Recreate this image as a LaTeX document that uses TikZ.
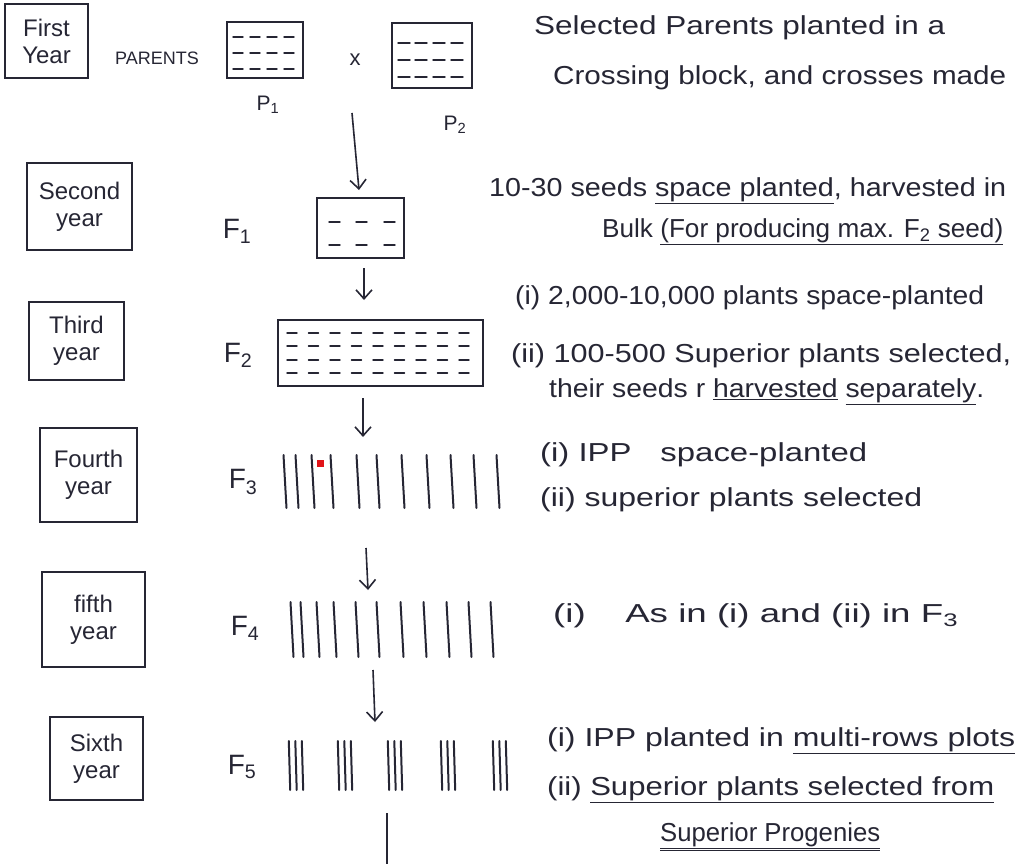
\documentclass[tikz,border=0pt]{standalone}
\usepackage{graphicx}
\usepackage{fontspec}
\setmainfont{Liberation Sans}
\usetikzlibrary{arrows.meta}
\definecolor{ink}{RGB}{38,38,52}
\definecolor{redmark}{RGB}{225,20,25}
\newcommand{\fitw}[2]{\resizebox{#1}{\height}{#2}}
\begin{document}
\begin{tikzpicture}[x=1pt,y=-1pt,
  yearbox/.style={draw=ink,line width=1.8pt,align=center,inner sep=0pt,text=ink,
    font=\fontsize{24}{27}\selectfont},
  plotbox/.style={draw=ink,line width=1.8pt,inner sep=0pt},
  rowarea/.style={inner sep=0pt},
  gen/.style={text=ink,font=\fontsize{28}{30}\selectfont,inner sep=0pt},
  note/.style={text=ink,font=\fontsize{26}{28}\selectfont,anchor=west,inner sep=0pt},
  flow/.style={draw=ink,line width=1.6pt,-{Straight Barb[length=9pt,width=16pt,line width=1.6pt]}},
  plain flow/.style={draw=ink,line width=1.6pt},
  plantrow/.style={draw=ink,line width=2pt,line cap=round},
  dashmark/.style={draw=ink,line width=1.4pt,line cap=round}
]
\useasboundingbox (0,0) rectangle (1015,864);
\fill[white] (0,0) rectangle (1015,864);

% ---------- year boxes ----------
\node[yearbox,minimum width=83pt,minimum height=74pt] (y1) at (46.5,41) {First\\Year};
\node[yearbox,minimum width=105pt,minimum height=87pt] (y2) at (79.5,206.5) {Second\\year};
\node[yearbox,minimum width=95pt,minimum height=78pt] (y3) at (76.5,341) {Third\\year};
\node[yearbox,minimum width=97pt,minimum height=94pt] (y4) at (88.5,475) {Fourth\\year};
\node[yearbox,minimum width=103pt,minimum height=95pt] (y5) at (93.5,619.5) {fifth\\year};
\node[yearbox,minimum width=93pt,minimum height=83pt] (y6) at (96.5,758.5) {Sixth\\year};

% ---------- first year ----------
\node[text=ink,font=\fontsize{18}{20}\selectfont,inner sep=0pt] (parents) at (157,58) {PARENTS};
\node[plotbox,minimum width=76pt,minimum height=56pt] (p1) at (265,50) {};
\node[plotbox,minimum width=80pt,minimum height=65pt] (p2) at (432,55.5) {};
\node[text=ink,font=\fontsize{22}{24}\selectfont,inner sep=0pt] (cross) at (355,60) {x};
\node[gen,font=\fontsize{21}{23}\selectfont] (p1l) at (268,105) {P\textsubscript{1}};
\node[gen,font=\fontsize{21}{23}\selectfont] (p2l) at (455,125) {P\textsubscript{2}};
\foreach \yy in {37,53,69}{
  \foreach \xx in {233,250,267,284}{\draw[dashmark] (\xx,\yy) -- ++(10,0);}}
\foreach \yy in {43,60,77}{
  \foreach \xx in {398,415,433,451}{\draw[dashmark] (\xx,\yy) -- ++(12,0);}}

% ---------- second year ----------
\node[gen] (f1l) at (237,231) {F\textsubscript{1}};
\node[plotbox,minimum width=87pt,minimum height=60pt] (f1) at (360.5,228) {};
\foreach \yy in {222,245}{
  \foreach \xx in {329,356,384}{\draw[dashmark] (\xx,\yy) -- ++(11,0);}}

% ---------- third year ----------
\node[gen] (f2l) at (238,355) {F\textsubscript{2}};
\node[plotbox,minimum width=205pt,minimum height=66pt] (f2) at (380.5,353) {};
\foreach \yy in {333,346,360,373}{
  \foreach \i in {0,...,8}{\draw[dashmark] (287+\i*21.5,\yy) -- ++(10,0);}}

% ---------- fourth year ----------
\node[gen] (f3l) at (243,482) {F\textsubscript{3}};
\node[rowarea,minimum width=222pt,minimum height=55pt] (f3) at (391,481.5) {};
\foreach \xx in {285,297,313,332,358,378,403,428,452,475,498}{
  \draw[plantrow] (\xx-1.5,455) -- (\xx+1.5,508);}
\fill[redmark] (316.5,459.5) rectangle (323.5,466.5);

% ---------- fifth year ----------
\node[gen] (f4l) at (245,628) {F\textsubscript{4}};
\node[rowarea,minimum width=208pt,minimum height=55pt] (f4) at (392,629.5) {};
\foreach \xx in {292,302,318,335,357,378,402,425,448,470,492}{
  \draw[plantrow] (\xx-1.5,602) -- (\xx+1.5,657);}

% ---------- sixth year ----------
\node[gen] (f5l) at (242,767) {F\textsubscript{5}};
\node[rowarea,minimum width=230pt,minimum height=50pt] (f5) at (398,765) {};
\foreach \cx in {296,345,395,448,500}{
  \foreach \o in {-6.5,0,6.5}{\draw[plantrow] (\cx+\o-0.7,741) -- (\cx+\o+0.7,790);}}

% ---------- connectors ----------
\coordinate (a1s) at (352,113);
\coordinate (a1e) at (359,190);
\coordinate (a2s) at (364,268);
\coordinate (a2e) at (364,300);
\coordinate (a3s) at (363,398);
\coordinate (a3e) at (363,437);
\coordinate (a4s) at (366,548);
\coordinate (a4e) at (368,590);
\coordinate (a5s) at (373,670);
\coordinate (a5e) at (375,722);
\coordinate (a6s) at (387,813);
\coordinate (a6e) at (387,864);
\draw[flow] (a1s) -- (a1e);
\draw[flow] (a2s) -- (a2e);
\draw[flow] (a3s) -- (a3e);
\draw[flow] (a4s) -- (a4e);
\draw[flow] (a5s) -- (a5e);
\draw[plain flow] (a6s) -- (a6e);

% ---------- notes ----------
\node[note] (n1a) at (534,28) {\fitw{411pt}{Selected Parents planted in a}};
\node[note] (n1b) at (553,78) {\fitw{453pt}{Crossing block, and crosses made}};
\node[note] (n2a) at (489,191) {\fitw{517pt}{10-30 seeds \underline{space planted}, harvested in}};
\node[note] (n2b) at (602,232) {\fitw{401pt}{Bulk \underline{(For producing max. F\textsubscript{2} seed)}}};
\node[note] (n3a) at (515,298) {\fitw{469pt}{(i) 2,000-10,000 plants space-planted}};
\node[note] (n3b) at (511,356) {\fitw{500pt}{(ii) 100-500 Superior plants selected,}};
\node[note] (n3c) at (549,392) {\fitw{435pt}{their seeds r \underline{harvested} \underline{separately}.}};
\node[note] (n4a) at (540,455) {\fitw{327pt}{(i) IPP\hspace{0.6em} space-planted}};
\node[note] (n4b) at (540,500) {\fitw{382pt}{(ii) superior plants selected}};
\node[note] (n5) at (553,616) {\fitw{405pt}{(i)\hspace{0.8em} As in (i) and (ii) in F\textsubscript{3}}};
\node[note] (n6a) at (547,741) {\fitw{468pt}{(i) IPP planted in \underline{multi-rows plots}}};
\node[note] (n6b) at (547,790) {\fitw{447pt}{(ii) \underline{Superior plants selected from}}};
\node[note] (n6c) at (660,837) {\fitw{220pt}{\underline{\underline{Superior Progenies}}}};
\end{tikzpicture}
\end{document}
